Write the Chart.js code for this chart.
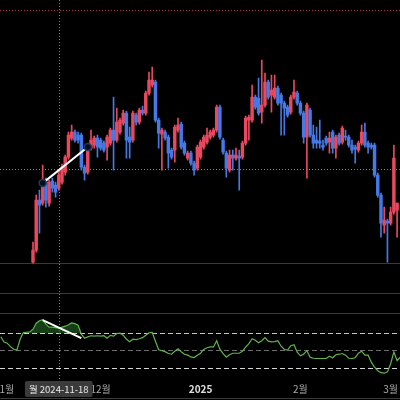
<!DOCTYPE html>
<html>
<head>
<meta charset="utf-8">
<script src="https://cdn.jsdelivr.net/npm/chart.js@4.4.1/dist/chart.umd.min.js"></script>
<style>
  html, body { margin: 0; padding: 0; background: #000; }
  #wrap { width: 400px; height: 400px; position: relative; background: #000; }
  canvas { display: block; }
</style>
</head>
<body>
<div id="wrap"><canvas id="myChart" width="400" height="400"></canvas></div>
<script>
// day 0 = 2024-11-01, one candle per day
const firstCandleDay = 9;
const opens  = [38,50,100,97,118,97,119,115,112,118,128,143,162,168,165,165,133,128,152,155,162,160,157,153,157,170,160,168,177,187,163,160,185,178,190,187,207,215,218,180,166,168,163,150,150,170,176,157,142,147,137,132,143,153,158,163,165,170,193,160,147,130,145,142,144,143,157,180,180,203,202,188,195,218,205,203,212,205,197,193,188,203,207,197,187,163,190,165,160,159,155,162,158,168,152,165,158,164,163,155,153,150,157,168,157,155,155,125,105,75,79,77,88,90];
const highs  = [58,105,110,135,122,120,122,118,128,136,145,168,175,170,168,167,135,152,170,164,165,162,159,165,172,203,192,182,190,189,173,189,187,192,194,209,228,233,220,182,172,170,165,152,175,182,178,159,149,149,139,155,160,165,172,170,172,195,195,162,149,150,150,152,150,159,184,185,215,205,222,240,227,220,225,225,214,207,199,195,205,220,209,199,189,197,192,175,173,180,160,164,168,170,165,167,174,170,165,160,155,159,175,177,159,157,157,127,107,93,81,93,155,97];
const lows   = [37,48,67,95,93,94,108,103,110,116,125,141,160,158,157,130,120,126,150,152,143,150,148,140,155,130,158,166,175,142,142,158,175,176,185,185,205,213,178,152,130,160,132,141,138,168,151,145,140,135,125,130,141,151,156,161,163,168,161,146,123,128,130,140,110,141,155,160,178,191,185,177,193,201,188,201,195,165,165,183,186,201,195,185,157,122,163,152,152,152,150,155,147,147,142,155,156,160,153,147,137,148,155,153,147,151,123,103,63,67,38,75,86,63];
const closes = [50,100,95,113,100,118,112,108,125,133,143,165,168,160,160,133,127,150,160,162,153,152,150,163,170,160,178,180,187,160,158,187,178,190,187,207,220,220,180,167,170,162,147,143,173,175,153,147,147,137,130,153,158,163,165,168,170,193,163,148,132,145,142,145,142,157,182,183,203,193,187,195,218,203,210,212,197,197,192,185,203,208,197,187,163,195,165,157,157,157,153,157,162,152,163,157,172,163,155,150,151,157,168,155,153,153,125,105,77,80,77,88,142,97];

const rsiFirstDay = -1;
const rsiValues = [66,60,58.6,54.6,51.7,50.6,63,70.6,71.1,71.5,74.6,81.4,84.3,85.4,80.3,76.9,76.9,76.3,75.7,76.9,78,79.7,81.8,80.9,79.1,68.9,64.3,65.8,67.1,66.6,67.1,66.6,67.1,64.3,67.5,66.6,69.7,70,67.7,63.1,60.3,63.1,62.6,63.7,64.9,67.7,70.5,70.9,60.9,51.1,50,48.9,46.8,46,49.4,52.3,48.9,46,44.9,42.9,42.2,44.9,47.1,51.4,53.4,54.3,54.3,61.4,51.7,46.6,42.6,45.4,47.1,47.1,47.1,49.4,54,58.2,63.7,62,59.1,61.4,64.9,60.9,60.1,60.3,61.4,55.1,51.4,50.6,55.7,56.9,48.3,44.1,46,50,42.6,41.4,41.1,41.1,41.1,41.1,43.7,42,45.4,46,46.8,44.9,41.4,41.1,42,47.1,49.4,44.9,44.9,36.9,31.1,27.1,24.9,24.3,25.8,35.1,48.6,38.6,42.6];
const rsiLevels = [30, 50, 70];

const tickDays = [0, 30, 61, 92, 120];
const tickLabels = ['11월', '12월', '2025', '2월', '3월'];

const trendDays = [12, 26];
const trendPrices = [117, 153];
const rsiTrendDays = [12, 24];
const rsiTrendValues = [85, 64.3];

const crossDay = 17;
const crossPrice = 131;
const crossLabel = '월 2024-11-18';
const topMarkPrice = 290;

const UP = '#e8495e';
const DOWN = '#4479e6';

Chart.defaults.font.family = '"Noto Sans CJK KR", "Noto Sans", sans-serif';

const candleColors = opens.map((o, i) => closes[i] >= o ? UP : DOWN);
const wickData = lows.map((l, i) => ({ x: firstCandleDay + i, y: [l, highs[i]] }));
const bodyData = opens.map((o, i) => ({ x: firstCandleDay + i, y: [o, closes[i]] }));

const overlay = {
  id: 'overlay',
  beforeDatasetsDraw(chart) {
    const { ctx, scales } = chart;
    ctx.save();
    // pane separators
    ctx.strokeStyle = '#3a3a3a';
    ctx.lineWidth = 1;
    [263.5, 293.5, 313.5, 398.5].forEach(y => {
      ctx.beginPath(); ctx.moveTo(0, y); ctx.lineTo(400, y); ctx.stroke();
    });
    // top red dotted
    let y = Math.round(scales.y.getPixelForValue(topMarkPrice)) + 0.5;
    ctx.strokeStyle = 'rgba(200,60,80,0.9)';
    ctx.setLineDash([1, 2]);
    ctx.beginPath(); ctx.moveTo(0, y); ctx.lineTo(400, y); ctx.stroke();
    // crosshair
    ctx.strokeStyle = 'rgba(160,160,160,0.8)';
    y = Math.round(scales.y.getPixelForValue(crossPrice)) + 0.5;
    ctx.beginPath(); ctx.moveTo(0, y); ctx.lineTo(400, y); ctx.stroke();
    const x = Math.round(scales.x.getPixelForValue(crossDay)) + 0.5;
    ctx.beginPath(); ctx.moveTo(x, 0); ctx.lineTo(x, 381); ctx.stroke();
    ctx.restore();
  },
  afterDraw(chart) {
    const { ctx, scales } = chart;
    const x = scales.x.getPixelForValue(crossDay);
    ctx.save();
    ctx.font = '9.5px "Noto Sans CJK KR", "Noto Sans", sans-serif';
    const w = Math.max(64, ctx.measureText(crossLabel).width + 8);
    ctx.fillStyle = '#3b3b3b';
    ctx.beginPath();
    ctx.roundRect(x - w / 2, 381, w, 16, 2);
    ctx.fill();
    ctx.fillStyle = '#e8e8e8';
    ctx.textAlign = 'center';
    ctx.textBaseline = 'middle';
    ctx.fillText(crossLabel, x, 389.5);
    ctx.restore();
  }
};

const chart = new Chart(document.querySelector('#myChart'), {
  type: 'bar',
  data: {
    datasets: [
      {
        type: 'line', data: trendDays.map((d, i) => ({ x: d, y: trendPrices[i] })),
        borderColor: '#ffffff', borderWidth: 2, pointRadius: 3.5,
        pointBackgroundColor: '#080c18', pointBorderColor: '#26365e', pointBorderWidth: 1.5,
        yAxisID: 'y', order: 0
      },
      {
        type: 'line', data: rsiTrendDays.map((d, i) => ({ x: d, y: rsiTrendValues[i] })),
        borderColor: '#ffffff', borderWidth: 2, pointRadius: 0,
        yAxisID: 'yRsi', order: 1
      },
      {
        data: bodyData, backgroundColor: candleColors, barThickness: 2.8,
        grouped: false, borderWidth: 0, minBarLength: 1, yAxisID: 'y', order: 2
      },
      {
        data: wickData, backgroundColor: candleColors, barThickness: 1,
        grouped: false, borderWidth: 0, minBarLength: 1, yAxisID: 'y', order: 3
      },
      {
        type: 'line', data: rsiValues.map((v, i) => ({ x: rsiFirstDay + i, y: v })),
        borderColor: '#62b34c', borderWidth: 1.2, pointRadius: 0, tension: 0,
        fill: { target: { value: 70 }, above: 'rgba(38,105,38,0.6)', below: 'rgba(0,0,0,0)' },
        yAxisID: 'yRsi', order: 4
      }
    ]
  },
  options: {
    responsive: false,
    animation: false,
    layout: { padding: 0, autoPadding: false },
    plugins: { legend: { display: false }, tooltip: { enabled: false } },
    scales: {
      x: {
        type: 'linear', min: -1.241, max: 122.9, offset: false,
        grid: { display: false, drawTicks: false, tickLength: 0 },
        border: { display: false },
        afterBuildTicks: s => { s.ticks = tickDays.map(v => ({ value: v })); },
        afterFit: s => { s.paddingLeft = 0; s.paddingRight = 0; },
        ticks: {
          padding: 4.9, maxRotation: 0, autoSkip: false,
          color: ctx => tickLabels[ctx.index] === '2025' ? '#e0e0e0' : '#a8a8a8',
          font: ctx => ({ size: 10, weight: tickLabels[ctx.index] === '2025' ? 'bold' : 'normal' }),
          callback: (v, i) => tickLabels[i]
        }
      },
      y: { type: 'linear', axis: 'y', display: false, min: -78, max: 300 },
      yRsi: {
        type: 'linear', axis: 'y', position: 'left', min: 18.6, max: 450.6,
        afterBuildTicks: s => { s.ticks = rsiLevels.map(v => ({ value: v })); },
        afterFit: s => { s.width = 0; s.paddingTop = 0; s.paddingBottom = 0; },
        ticks: { display: false },
        grid: {
          drawTicks: false, tickLength: 0, lineWidth: 1,
          color: ctx => ctx.tick && ctx.tick.value === 50 ? '#6e6e6e' : '#d4d4d4'
        },
        border: { display: false, dash: [5, 3] }
      }
    }
  },
  plugins: [overlay]
});
</script>
</body>
</html>
